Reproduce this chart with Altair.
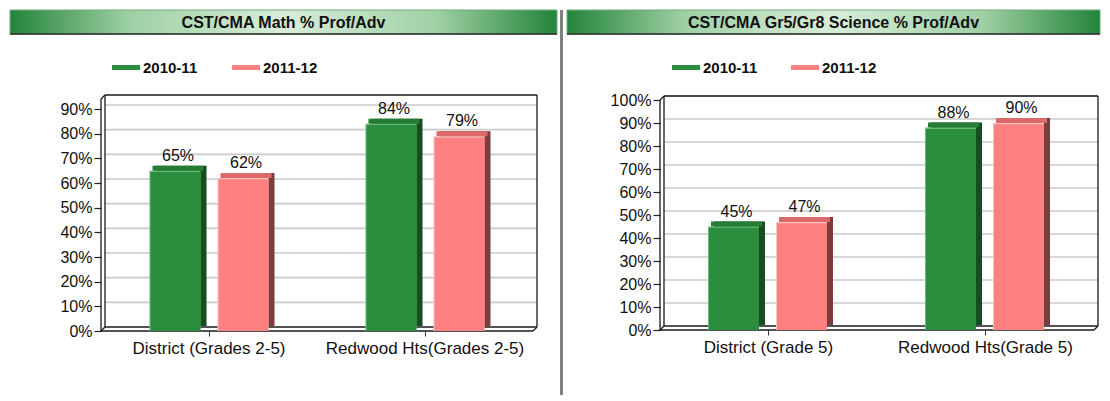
import altair as alt
import pandas as pd

# ---------------- data ----------------
SERIES = ["2010-11", "2011-12"]

MATH_TITLE = "CST/CMA Math % Prof/Adv"
MATH_CATS = ["District (Grades 2-5)", "Redwood Hts(Grades 2-5)"]
MATH_2010 = [65, 84]
MATH_2011 = [62, 79]
MATH_TICKS = [0, 10, 20, 30, 40, 50, 60, 70, 80, 90]

SCI_TITLE = "CST/CMA Gr5/Gr8 Science % Prof/Adv"
SCI_CATS = ["District (Grade 5)", "Redwood Hts(Grade 5)"]
SCI_2010 = [45, 88]
SCI_2011 = [47, 90]
SCI_TICKS = [0, 10, 20, 30, 40, 50, 60, 70, 80, 90, 100]

# ---------------- styles ----------------
FRONT = ["#2b8e3e", "#ff8080"]
SIDE = ["#164d20", "#7d3c3c"]
TOP = ["#247c35", "#dc6a6a"]
HILITE = ["#6ab976", "#ffc0c0"]
FONT = "Liberation Sans"
TXT = "#111111"
ONE = pd.DataFrame({"k": [0]})


def seg(x1, y1, x2, y2, color="#1a1a1a", w=1.3):
    return alt.Chart(ONE).mark_rule(color=color, strokeWidth=w).encode(
        x=alt.value(x1), y=alt.value(y1), x2=alt.value(x2), y2=alt.value(y2)
    )


def panel(title, cats, v1, v2, ticks, ymax, g):
    W, H = g["W"], g["H"]
    xl, xr, yf, yt, d = g["xl"], g["xr"], g["yf"], g["yt"], 4
    df = pd.DataFrame({
        "cat": cats + cats,
        "series": [SERIES[0]] * len(cats) + [SERIES[1]] * len(cats),
        "value": v1 + v2,
    })
    xs = alt.Scale(domain=cats, range=[xl, xr], paddingInner=0, paddingOuter=0)
    ys = alt.Scale(domain=[0, ymax], range=[yf, g["ytop_val"]], nice=False, zero=True)
    yaxis = alt.Axis(orient="left", offset=-xl, values=ticks, labelExpr="datum.value + '%'",
                     domain=False, grid=False, tickSize=7, tickColor="#222", tickWidth=1.2,
                     labelFont=FONT, labelFontSize=16, labelColor=TXT, labelPadding=2, title=None)
    xaxis = alt.Axis(orient="bottom", offset=-(H - yf), domain=False, grid=False, tickSize=5,
                     tickColor="#333", labelFont=FONT, labelFontSize=17, labelColor=TXT,
                     labelPadding=4, labelAngle=0, labelLimit=400, title=None)
    X = alt.X("cat:N", scale=xs, axis=xaxis)
    Y = alt.Y("value:Q", scale=ys, axis=yaxis)

    layers = []
    # separator / title bar
    if g.get("sep") is not None:
        layers.append(seg(g["sep"], 0, g["sep"], H, "#808080", 3))
    grad = alt.LinearGradient(
        gradient="linear", x1=0, x2=1, y1=0, y2=0,
        stops=[alt.GradientStop(color="#23843a", offset=0),
               alt.GradientStop(color="#9fd0a5", offset=0.22),
               alt.GradientStop(color="#d8edd9", offset=0.5),
               alt.GradientStop(color="#9fd0a5", offset=0.78),
               alt.GradientStop(color="#23843a", offset=1)])
    layers.append(alt.Chart(ONE).mark_rect(color=grad, stroke="#6fae78", strokeWidth=1).encode(
        x=alt.value(g["tx0"]), x2=alt.value(g["tx1"]), y=alt.value(0), y2=alt.value(24)))
    layers.append(seg(g["tx0"], 24, g["tx1"], 24, "#2a2a2a", 1.5))
    layers.append(alt.Chart(pd.DataFrame({"t": [title]})).mark_text(
        font=FONT, fontSize=16, fontWeight="bold", color=TXT, baseline="middle", align="center"
    ).encode(text="t:N", x=alt.value((g["tx0"] + g["tx1"]) / 2), y=alt.value(12.5)))

    # legend
    for i, s in enumerate(SERIES):
        sx = g["leg"][i]
        layers.append(seg(sx, 57.5, sx + 28, 57.5, FRONT[i], 5))
        layers.append(alt.Chart(pd.DataFrame({"t": [s]})).mark_text(
            font=FONT, fontSize=15, fontWeight="bold", color=TXT, align="left", baseline="middle"
        ).encode(text="t:N", x=alt.value(sx + 31), y=alt.value(58)))

    # grid on back wall
    gdf = pd.DataFrame({"value": [t for t in ticks if t > 0]})
    layers.append(alt.Chart(gdf).mark_rule(color="#cacaca", strokeWidth=1.6, yOffset=-d).encode(
        y=Y, x=alt.value(xl + d), x2=alt.value(xr + d)))

    # 3D frame
    layers += [
        seg(xl, yf, xl, yt), seg(xl, yt, xl + d, yt - d), seg(xl + d, yt - d, xl + d, yf - d),
        seg(xl + d, yt - d, xr + d, yt - d), seg(xr + d, yt - d, xr + d, yf - d),
        seg(xl + d, yf - d, xr + d, yf - d), seg(xl, yf, xr, yf),
        seg(xr, yf, xr + d, yf - d), seg(xl, yf, xl + d, yf - d),
    ]

    # bars
    offs = g["offs"]
    for i, s in enumerate(SERIES):
        base = alt.Chart(df[df["series"] == s])
        off = offs[i]
        layers.append(base.mark_bar(width=51, xOffset=off + 6, yOffset=-5, y2Offset=-5, color=SIDE[i]).encode(
            x=X, y=Y, y2=alt.datum(0)))
        layers.append(base.mark_bar(width=51, xOffset=off + 3, yOffset=-5, y2Offset=0, color=TOP[i]).encode(
            x=X, y=Y, y2="value:Q"))
        layers.append(base.mark_bar(width=51, xOffset=off, color=HILITE[i]).encode(
            x=X, y=Y, y2=alt.datum(0)))
        layers.append(base.mark_bar(width=50, xOffset=off + 0.5, yOffset=1.3, color=FRONT[i]).encode(
            x=X, y=Y, y2=alt.datum(0)))
        layers.append(base.transform_calculate(lbl="datum.value + '%'").mark_text(
            font=FONT, fontSize=16, color=TXT, baseline="bottom", align="center", dx=off + 3, dy=-7
        ).encode(x=X, y=Y, text="lbl:N"))

    return alt.layer(*layers).properties(width=W, height=H)


left = panel(MATH_TITLE, MATH_CATS, MATH_2010, MATH_2011, MATH_TICKS, 90, dict(
    W=552, H=385, xl=93, xr=525, yf=321, yt=89, ytop_val=99,
    tx0=2, tx1=549, leg=[104, 224], offs=[-34, 34], sep=None))

right = panel(SCI_TITLE, SCI_CATS, SCI_2010, SCI_2011, SCI_TICKS, 100, dict(
    W=542, H=385, xl=100, xr=534, yf=320, yt=90, ytop_val=90,
    tx0=7, tx1=540, leg=[112, 231], offs=[-35, 33], sep=1.5))

chart = alt.hconcat(left, right, spacing=0, bounds="flush", padding=0).configure_view(strokeWidth=0)

chart.save("out.html", embed_options={"renderer": "svg", "actions": False})
